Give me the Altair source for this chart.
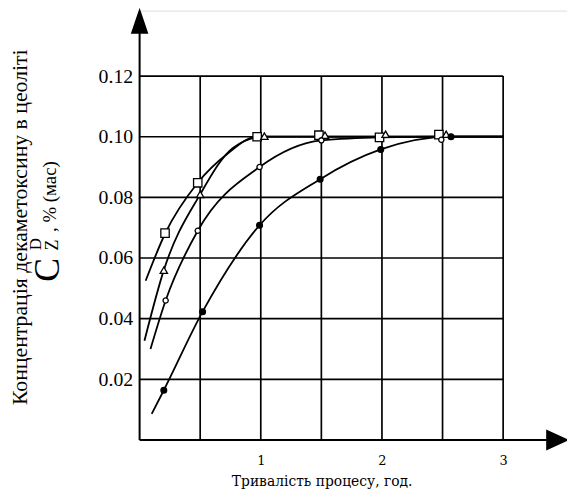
import altair as alt
import pandas as pd

# ---- data ----
# squares (open)
sq_mx = [0.21, 0.48, 0.97, 1.48, 1.98, 2.47]
sq_my = [0.0682, 0.0848, 0.1000, 0.1005, 0.0998, 0.1007]
sq_lx = [0.05, 0.21, 0.48, 0.72, 0.97, 1.5, 2.0, 2.5, 3.0]
sq_ly = [0.0525, 0.068, 0.0848, 0.0942, 0.1, 0.1, 0.1, 0.1, 0.1]

# triangles (open)
tr_mx = [0.20, 0.50, 1.03, 1.53, 2.03, 2.53]
tr_my = [0.0560, 0.0810, 0.1002, 0.1005, 0.1008, 0.1008]
tr_lx = [0.04, 0.20, 0.50, 0.77, 1.02, 1.5, 2.0, 2.5, 3.0]
tr_ly = [0.0327, 0.056, 0.081, 0.0963, 0.1, 0.1, 0.1, 0.1, 0.1]

# open circles
oc_mx = [0.215, 0.48, 0.99, 1.50, 2.49]
oc_my = [0.0460, 0.0690, 0.0900, 0.0988, 0.0990]
oc_lx = [0.09, 0.215, 0.48, 0.99, 1.5, 2.0, 2.5, 3.0]
oc_ly = [0.030, 0.046, 0.069, 0.090, 0.0988, 0.0998, 0.1, 0.1]

# filled circles
fc_mx = [0.20, 0.52, 0.99, 1.49, 1.99, 2.57]
fc_my = [0.0164, 0.0423, 0.0708, 0.0860, 0.0958, 0.1000]
fc_lx = [0.10, 0.20, 0.52, 0.99, 1.49, 1.99, 2.57, 3.0]
fc_ly = [0.0086, 0.0164, 0.0423, 0.0708, 0.086, 0.0958, 0.1, 0.1]

grid_x = [0.5, 1.0, 1.5, 2.0, 2.5, 3.0]
grid_y = [0.02, 0.04, 0.06, 0.08, 0.10, 0.12]
x_ticks = [1, 2, 3]
y_ticks = [0.02, 0.04, 0.06, 0.08, 0.10, 0.12]

x_title = "Тривалість процесу, год."
y_title1 = "Концентрація  декаметоксину в цеоліті"

SERIF = "Liberation Serif, Times New Roman, serif"
SERIF2 = "DejaVu Serif, serif"

# ---- scales ----
xs = alt.Scale(domain=[0, 3.527], nice=False, zero=False)
ys = alt.Scale(domain=[0, 0.1416], nice=False, zero=False)

xaxis = alt.Axis(values=x_ticks, format="d", domain=False, ticks=False, grid=False,
                 labelFont=SERIF2, labelFontSize=13, labelColor="black",
                 labelPadding=15, title=x_title, titleFont=SERIF2,
                 titleFontSize=14, titleFontWeight="normal", titleColor="black",
                 titleX=184, titleY=35, titleAnchor="middle", titleAlign="center")
yaxis = alt.Axis(values=y_ticks, format=".2f", domain=False, ticks=False, grid=False,
                 labelFont=SERIF, labelFontSize=20, labelColor="black",
                 labelPadding=7, title=None)

# grid rules
vdf = pd.DataFrame({"x": grid_x, "y": [0.0] * len(grid_x), "y2": [0.12] * len(grid_x)})
hdf = pd.DataFrame({"y": grid_y, "x": [0.0] * len(grid_y), "x2": [3.0] * len(grid_y)})

vgrid = alt.Chart(vdf).mark_rule(color="black", strokeWidth=1.7).encode(
    x=alt.X("x:Q", scale=xs, axis=xaxis),
    y=alt.Y("y:Q", scale=ys, axis=yaxis),
    y2="y2:Q",
)
hgrid = alt.Chart(hdf).mark_rule(color="black", strokeWidth=1.7).encode(
    x=alt.X("x:Q", scale=xs, axis=xaxis),
    x2="x2:Q",
    y=alt.Y("y:Q", scale=ys, axis=yaxis),
)

# axis lines with arrows
axdf = pd.DataFrame({"x": [0.0, 0.0], "x2": [3.36, 0.0], "y": [0.0, 0.0], "y2": [0.0, 0.136]})
axes_lines = alt.Chart(axdf).mark_rule(color="black", strokeWidth=2).encode(
    x=alt.X("x:Q", scale=xs, axis=xaxis), x2="x2:Q",
    y=alt.Y("y:Q", scale=ys, axis=yaxis), y2="y2:Q",
)
arr_up = alt.Chart(pd.DataFrame({"x": [0.0], "y": [0.1379]})).mark_point(
    shape="M0,-1L0.68,1L-0.68,1Z", size=484, filled=True, fill="black", stroke="black", opacity=1
).encode(x=alt.X("x:Q", scale=xs, axis=xaxis), y=alt.Y("y:Q", scale=ys, axis=yaxis))
arr_right = alt.Chart(pd.DataFrame({"x": [3.445], "y": [0.0]})).mark_point(
    shape="M1,0L-1,0.9L-1,-0.9Z", size=400, filled=True, fill="black", stroke="black", opacity=1
).encode(x=alt.X("x:Q", scale=xs, axis=xaxis), y=alt.Y("y:Q", scale=ys, axis=yaxis))

# curves
rows = []
for name, lx, ly in [("sq", sq_lx, sq_ly), ("tr", tr_lx, tr_ly), ("oc", oc_lx, oc_ly), ("fc", fc_lx, fc_ly)]:
    for i, (a, b) in enumerate(zip(lx, ly)):
        rows.append({"s": name, "x": a, "y": b, "o": i})
ldf = pd.DataFrame(rows)
lines = alt.Chart(ldf).mark_line(color="black", strokeWidth=1.8, interpolate="monotone").encode(
    x=alt.X("x:Q", scale=xs, axis=xaxis),
    y=alt.Y("y:Q", scale=ys, axis=yaxis),
    detail="s:N",
    order="o:Q",
)

def markers(mx, my, shape, size, fill):
    return alt.Chart(pd.DataFrame({"x": mx, "y": my})).mark_point(
        shape=shape, size=size, filled=True, fill=fill, stroke="black", strokeWidth=1.3, opacity=1
    ).encode(x=alt.X("x:Q", scale=xs, axis=xaxis), y=alt.Y("y:Q", scale=ys, axis=yaxis))

m_sq = markers(sq_mx, sq_my, "square", 72, "white")
m_tr = markers(tr_mx, tr_my, "triangle-up", 55, "white")
m_oc = markers(oc_mx, oc_my, "circle", 28, "white")
m_fc = markers(fc_mx, fc_my, "circle", 34, "black")

# y title (rotated, two lines with C^D_Z)
def label(text, x, y, size, font=SERIF):
    return alt.Chart(pd.DataFrame({"t": [text]})).mark_text(
        angle=270, align="center", baseline="middle", font=font, fontSize=size, color="black"
    ).encode(x=alt.value(x), y=alt.value(y), text="t:N")

t1 = label(y_title1, -121, 219, 22)
tC = label("C", -92, 262, 36)
tD = label("D", -105, 236, 17)
tZ = label("Z", -87, 237, 18)
tRest = label(", % (мас)", -90, 188, 19)

chart = alt.layer(
    vgrid, hgrid, axes_lines, arr_up, arr_right, lines, m_sq, m_tr, m_oc, m_fc,
    t1, tC, tD, tZ, tRest
).properties(
    width=432, height=434,
    padding={"left": 133, "top": 0, "right": 0, "bottom": 50},
    autosize="none",
).configure_view(stroke=None).configure(background="white")

chart.save("out.html", embed_options={"renderer": "svg", "actions": False})
